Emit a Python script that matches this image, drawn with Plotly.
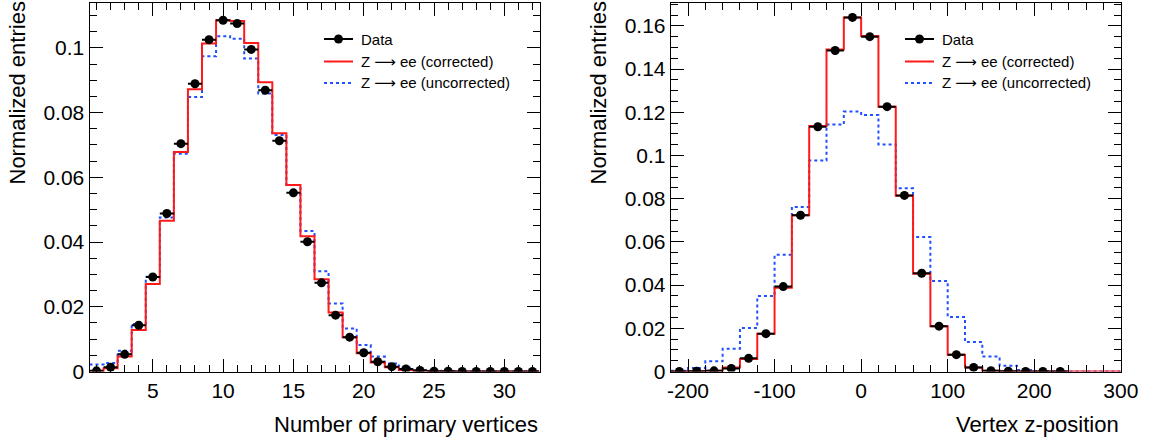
import plotly.graph_objects as go

W, H = 1156, 437

# ---------------- Data ----------------
# Left: number of primary vertices, bins of width 1 centred on 1..32
nv_centers = list(range(1, 33))
nv_data = [0.0002, 0.0013, 0.0053, 0.0143, 0.0292, 0.0488, 0.0704, 0.0889, 0.1025, 0.1085,
           0.1075, 0.0995, 0.0869, 0.0713, 0.0552, 0.0401, 0.0274, 0.0174, 0.0106, 0.0058,
           0.0030, 0.0015, 0.0008, 0.0003, 0.0001, 0.0001, 0.0, 0.0, 0.0, 0.0, 0.0, 0.0]
nv_corr = [0.0001, 0.0010, 0.0046, 0.0128, 0.0270, 0.0466, 0.0678, 0.0872, 0.1013, 0.1085,
           0.1083, 0.1015, 0.0894, 0.0736, 0.0576, 0.0418, 0.0285, 0.0182, 0.0106, 0.0056,
           0.0028, 0.0013, 0.0005, 0.0002, 0.0001, 0.0, 0.0, 0.0, 0.0, 0.0, 0.0, 0.0]
nv_uncorr = [0.0022, 0.0026, 0.0064, 0.0147, 0.0293, 0.0476, 0.0673, 0.0848, 0.0974, 0.1036,
             0.1028, 0.0967, 0.0859, 0.0731, 0.0576, 0.0434, 0.0310, 0.0210, 0.0133, 0.0082,
             0.0046, 0.0025, 0.0012, 0.0005, 0.0002, 0.0001, 0.0, 0.0, 0.0, 0.0, 0.0, 0.0]
nv_width = 1.0

# Right: vertex z-position, bins of width 20 centred on -210..290
z_centers = [-210, -190, -170, -150, -130, -110, -90, -70, -50, -30, -10, 10, 30, 50, 70,
             90, 110, 130, 150, 170, 190, 210, 230, 250, 270, 290]
z_data = [0.0, 0.0001, 0.0003, 0.0014, 0.0061, 0.0175, 0.0393, 0.0723, 0.1133, 0.1486,
          0.1639, 0.1550, 0.1226, 0.0815, 0.0455, 0.0210, 0.0078, 0.0019, 0.0004, 0.0001,
          0.0, 0.0, 0.0, None, None, None]
z_corr = [0.0, 0.0001, 0.0004, 0.0019, 0.0058, 0.0175, 0.0388, 0.0723, 0.1136, 0.1491,
          0.1639, 0.1553, 0.1226, 0.0813, 0.0452, 0.0210, 0.0078, 0.0019, 0.0003, 0.0001,
          0.0, 0.0, 0.0, 0.0, 0.0, 0.0]
z_uncorr = [0.0003, 0.0016, 0.0047, 0.0105, 0.0201, 0.0349, 0.0540, 0.0762, 0.0977, 0.1143,
            0.1203, 0.1187, 0.1051, 0.0848, 0.0623, 0.0419, 0.0252, 0.0136, 0.0069, 0.0027,
            0.0007, 0.0002, 0.0001, 0.0, 0.0, 0.0]
z_width = 20.0

nv_xticks = [5, 10, 15, 20, 25, 30]
z_xticks = [-200, -100, 0, 100, 200, 300]
y_ticks_left = [0, 0.02, 0.04, 0.06, 0.08, 0.1]
y_ticks_right = [0, 0.02, 0.04, 0.06, 0.08, 0.1, 0.12, 0.14, 0.16]

legend_labels = ["Data", "Z \u27f6 ee (corrected)", "Z \u27f6 ee (uncorrected)"]
FONT = "Liberation Sans, Arial, Helvetica, DejaVu Sans, sans-serif"


def step(centers, values, width):
    edges = [c - width / 2 for c in centers] + [centers[-1] + width / 2]
    return edges, list(values) + [values[-1]]


fig = go.Figure()


def add_panel(centers, data, corr, uncorr, width, xa, ya):
    ex, ey = step(centers, uncorr, width)
    fig.add_trace(go.Scatter(x=ex, y=ey, mode="lines", line_shape="hv",
                             line=dict(color="#1f4fff", width=2, dash="3px,3px"),
                             xaxis=xa, yaxis=ya, showlegend=False))
    ex, ey = step(centers, corr, width)
    fig.add_trace(go.Scatter(x=ex, y=ey, mode="lines", line_shape="hv",
                             line=dict(color="#ff1a1a", width=2),
                             xaxis=xa, yaxis=ya, showlegend=False))
    fig.add_trace(go.Scatter(x=centers, y=data, mode="markers",
                             marker=dict(color="black", size=9, symbol="circle"),
                             error_x=dict(type="constant", value=width / 2, color="black",
                                          thickness=2, width=0),
                             xaxis=xa, yaxis=ya, showlegend=False))


add_panel(nv_centers, nv_data, nv_corr, nv_uncorr, nv_width, "x", "y")
add_panel(z_centers, z_data, z_corr, z_uncorr, z_width, "x2", "y2")

ydom = [(H - 371.5) / H, (H - 2.5) / H]
xdom1 = [89.5 / W, 539.5 / W]
xdom2 = [670.7 / W, 1120.8 / W]

common = dict(showline=True, linecolor="black", linewidth=1, mirror="ticks",
              ticks="inside", ticklen=13, tickwidth=1, tickcolor="black",
              showgrid=False, zeroline=False, automargin=False,
              tickfont=dict(family=FONT, size=21, color="black"))

fig.update_layout(
    width=W, height=H, margin=dict(l=0, r=0, t=0, b=0, autoexpand=False),
    paper_bgcolor="white", plot_bgcolor="white", showlegend=False,
    xaxis=dict(domain=xdom1, range=[0.5, 32.5], anchor="y",
               tickmode="array", tickvals=nv_xticks, ticktext=[str(v) for v in nv_xticks],
               minor=dict(tickmode="linear", tick0=0, dtick=1, ticks="inside", ticklen=7,
                          tickcolor="black", showgrid=False), **common),
    yaxis=dict(domain=ydom, range=[0, 0.114], anchor="x",
               tickmode="array", tickvals=y_ticks_left, ticktext=[f"{v:g}" for v in y_ticks_left],
               minor=dict(tickmode="linear", tick0=0, dtick=0.005, ticks="inside", ticklen=7,
                          tickcolor="black", showgrid=False), **common),
    xaxis2=dict(domain=xdom2, range=[-220, 300], anchor="y2",
                tickmode="array", tickvals=z_xticks, ticktext=[str(v) for v in z_xticks],
                minor=dict(tickmode="linear", tick0=0, dtick=20, ticks="inside", ticklen=7,
                           tickcolor="black", showgrid=False), **common),
    yaxis2=dict(domain=ydom, range=[0, 0.1708], anchor="x2",
                tickmode="array", tickvals=y_ticks_right, ticktext=[f"{v:g}" for v in y_ticks_right],
                minor=dict(tickmode="linear", tick0=0, dtick=0.005, ticks="inside", ticklen=7,
                           tickcolor="black", showgrid=False), **common),
)

annotations = []
shapes = []


def px(x):
    return x / W


def py(y):
    return 1 - y / H


# axis titles
for xc in (17, 598):
    annotations.append(dict(text="Normalized entries", textangle=-90, x=px(xc), y=1.0,
                            xref="paper", yref="paper", xanchor="center", yanchor="top",
                            showarrow=False, font=dict(family=FONT, size=22, color="black")))
annotations.append(dict(text="Number of primary vertices", x=px(540), y=py(424),
                        xref="paper", yref="paper", xanchor="right", yanchor="middle",
                        showarrow=False, font=dict(family=FONT, size=22, color="black")))
annotations.append(dict(text="Vertex z-position", x=px(1121), y=py(424),
                        xref="paper", yref="paper", xanchor="right", yanchor="middle",
                        showarrow=False, font=dict(family=FONT, size=22, color="black")))

# legends
rows = [39, 61.5, 83]
for x_line0 in (324, 905):
    x_line1 = x_line0 + 29
    x_text = x_line0 + 35
    styles = [dict(color="black", width=2), dict(color="#ff1a1a", width=2),
              dict(color="#1f4fff", width=2, dash="3px,3px")]
    for r, lab, st in zip(rows, legend_labels, styles):
        shapes.append(dict(type="line", xref="paper", yref="paper",
                           x0=px(x_line0), x1=px(x_line1), y0=py(r), y1=py(r), line=st))
        annotations.append(dict(text=lab, x=px(x_text), y=py(r), xref="paper", yref="paper",
                                xanchor="left", yanchor="middle", showarrow=False,
                                font=dict(family=FONT, size=15, color="black")))
    cx = (x_line0 + x_line1) / 2
    shapes.append(dict(type="circle", xref="paper", yref="paper",
                       x0=px(cx - 4.5), x1=px(cx + 4.5), y0=py(rows[0] + 4.5), y1=py(rows[0] - 4.5),
                       fillcolor="black", line=dict(color="black", width=0)))

fig.update_layout(annotations=annotations, shapes=shapes)
fig.write_html("out.html")
